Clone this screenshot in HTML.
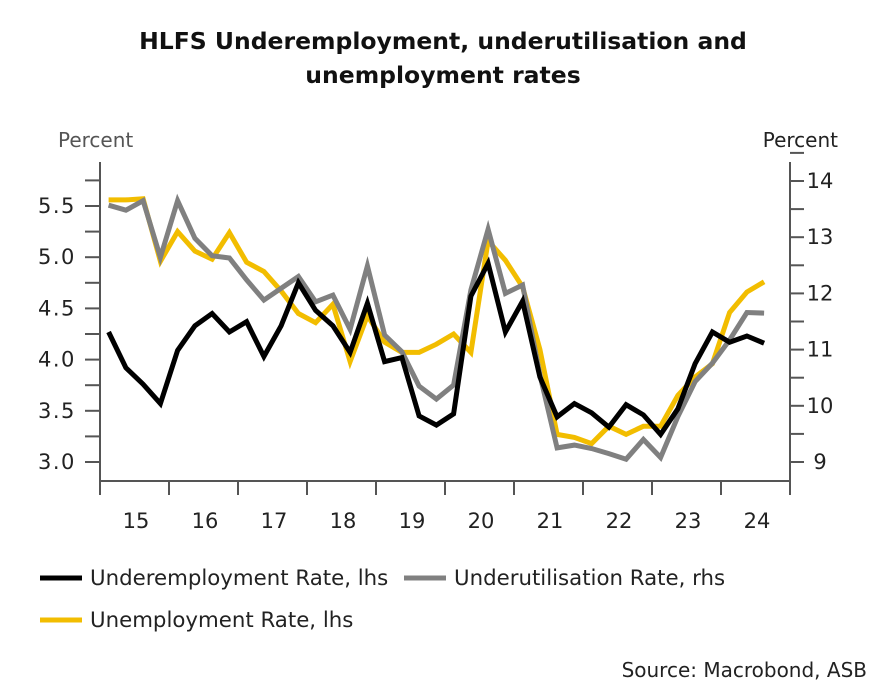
<!DOCTYPE html>
<html><head><meta charset="utf-8"><style>
body{margin:0;background:#fff;}
svg{display:block;font-family:"DejaVu Sans","Liberation Sans",sans-serif;}
</style></head><body>
<svg id="chart" width="877" height="692" viewBox="0 0 877 692" xmlns="http://www.w3.org/2000/svg">
<text x="443" y="49" text-anchor="middle" font-size="23.5" font-weight="bold" fill="#111">HLFS Underemployment, underutilisation and</text>
<text x="443" y="83" text-anchor="middle" font-size="23.5" font-weight="bold" fill="#111">unemployment rates</text>
<text x="58" y="147" font-size="20" fill="#555">Percent</text>
<text x="838" y="147" text-anchor="end" font-size="20" fill="#222">Percent</text>
<g id="axes"></g>
<g id="series"></g>
<g>
<line x1="40" y1="578" x2="82" y2="578" stroke="#000" stroke-width="5"/>
<text x="90" y="585" font-size="21.3" fill="#222">Underemployment Rate, lhs</text>
<line x1="404" y1="578" x2="446" y2="578" stroke="#808080" stroke-width="5"/>
<text x="454" y="585" font-size="21.3" fill="#222">Underutilisation Rate, rhs</text>
<line x1="40" y1="620" x2="82" y2="620" stroke="#f2bd00" stroke-width="5"/>
<text x="90" y="627" font-size="21.3" fill="#222">Unemployment Rate, lhs</text>
</g>
<text x="867" y="677" text-anchor="end" font-size="20" fill="#222">Source: Macrobond, ASB</text>
</svg>
<script>
const years = ["15","16","17","18","19","20","21","22","23","24"];
const leftTicks = ["3.0","3.5","4.0","4.5","5.0","5.5"];
const rightTicks = ["9","10","11","12","13","14"];
const underemployment = [4.27,3.92,3.76,3.57,4.09,4.33,4.45,4.27,4.37,4.03,4.33,4.75,4.48,4.33,4.07,4.55,3.98,4.02,3.45,3.36,3.47,4.62,4.94,4.27,4.57,3.83,3.44,3.57,3.48,3.34,3.56,3.46,3.27,3.52,3.96,4.27,4.17,4.23,4.16];
const unemployment = [5.56,5.56,5.57,4.96,5.25,5.06,4.98,5.24,4.95,4.86,4.67,4.45,4.36,4.54,3.98,4.43,4.17,4.07,4.07,4.15,4.25,4.07,5.16,4.97,4.71,4.10,3.27,3.24,3.18,3.35,3.27,3.35,3.35,3.65,3.83,3.96,4.46,4.66,4.76];
const underutilisation = [13.57,13.48,13.65,12.64,13.65,12.98,12.67,12.63,12.24,11.88,12.09,12.30,11.85,11.97,11.36,12.49,11.26,10.96,10.35,10.12,10.37,12.06,13.14,12.00,12.15,10.55,9.25,9.30,9.24,9.15,9.05,9.40,9.08,9.81,10.43,10.76,11.17,11.66,11.65];

const X0=100, X1=790, Q=69/4;
const xq = i => X0 + Q*(i+0.5);
const yL = v => 462 - (v-3)*102.4;
const yR = v => 462 - (v-9)*56.2;
const NS="http://www.w3.org/2000/svg";
function mk(tag, attrs, parent){const e=document.createElementNS(NS,tag);for(const k in attrs)e.setAttribute(k,attrs[k]);parent.appendChild(e);return e;}
const axes=document.getElementById('axes'), series=document.getElementById('series');
const ax={stroke:"#555","stroke-width":2};
let e=mk('line',Object.assign({x1:X0,y1:162,x2:X0,y2:481},ax),axes);


for(let k=0;k<=11;k++){const v=3+k*0.25;mk('line',Object.assign({x1:85,x2:X0,y1:yL(v),y2:yL(v)},ax),axes);}
leftTicks.forEach(t=>{const l=mk('text',{x:38,y:yL(+t)+7,"font-size":21,"letter-spacing":"1.5",fill:"#222"},axes);l.textContent=t;

});
e=mk('line',Object.assign({x1:X1,y1:162,x2:X1,y2:481},ax),axes);


for(let k=0;k<=11;k++){const v=9+k*0.5;mk('line',Object.assign({x1:X1,x2:X1+14,y1:yR(v),y2:yR(v)},ax),axes);}
rightTicks.forEach(t=>{const l=mk('text',{x:820,y:yR(+t)+7,"text-anchor":"middle","font-size":21,fill:"#222"},axes);l.textContent=t;

});
e=mk('line',Object.assign({x1:X0,y1:481,x2:X1,y2:481},ax),axes);


for(let k=0;k<=years.length;k++){const x=X0+k*69;if(x<=X1+1)mk('line',Object.assign({x1:x,x2:x,y1:481,y2:495},ax),axes);}
years.forEach((t,k)=>{const l=mk('text',{x:X0+k*69+36,y:528,"text-anchor":"middle","font-size":21,fill:"#222"},axes);l.textContent=t;

});
function line(data,yf,color,name){const p=data.map((v,i)=>xq(i).toFixed(1)+','+yf(v).toFixed(1)).join(' ');
const pl=mk('polyline',{points:p,fill:"none",stroke:color,"stroke-width":5,"stroke-linejoin":"miter"},series);

}
line(unemployment,yL,"#f2bd00",'unemployment-line');
line(underutilisation,yR,"#808080",'underutilisation-line');
line(underemployment,yL,"#000",'underemployment-line');
</script>
</body></html>
